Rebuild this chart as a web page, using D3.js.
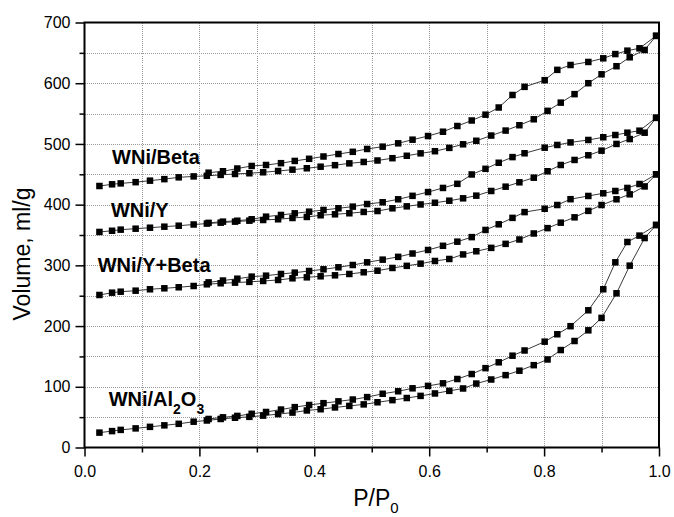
<!DOCTYPE html>
<html>
<head>
<meta charset="utf-8">
<script src="https://cdn.jsdelivr.net/npm/d3@7"></script>
<style>
  html, body { margin: 0; padding: 0; background: #fff; }
  svg { display: block; font-family: Arial, "Liberation Sans", sans-serif; }
</style>
</head>
<body>
<svg id="chart" width="674" height="517"></svg>
<script>
// Relative pressure points of the adsorption and desorption runs
const adsP = [0.026, 0.048, 0.063, 0.089, 0.114, 0.139, 0.164, 0.190, 0.213, 0.237,
  0.262, 0.287, 0.311, 0.337, 0.362, 0.387, 0.411, 0.436, 0.461, 0.486,
  0.510, 0.536, 0.561, 0.585, 0.610, 0.635, 0.659, 0.682, 0.708, 0.733,
  0.757, 0.782, 0.806, 0.829, 0.853, 0.877, 0.900, 0.926, 0.949, 0.975, 0.995];
const desP = [0.995, 0.966, 0.945, 0.924, 0.903, 0.877, 0.846, 0.823, 0.801, 0.766,
  0.745, 0.721, 0.698, 0.674, 0.649, 0.624, 0.598, 0.571, 0.546, 0.519,
  0.492, 0.467, 0.442, 0.416, 0.391, 0.366, 0.342, 0.316, 0.291, 0.266, 0.241, 0.216];

// Adsorbed volume, ml/g
const betaAds = [430.7, 433.5, 435, 437, 439.5, 442, 445, 446.5, 447.5, 449,
  450.5, 451.7, 453.3, 455.4, 457.6, 459.9, 462.5, 465, 468, 470.3,
  472.7, 476.5, 480.5, 484.5, 488, 493.5, 499.4, 505.2, 513.8, 522,
  530.8, 540.6, 554.5, 568, 582, 600, 614.7, 628, 642.7, 654.8, 678];
const betaDes = [678, 657.5, 653.6, 648, 641, 635, 630, 622, 605, 594,
  580.6, 560, 548.2, 538.6, 529.5, 520.1, 513, 507, 501, 495.5,
  491.7, 487, 483.4, 479.3, 475.5, 472, 468.3, 465.3, 463.7, 459.5, 455, 452.6];

const yAds = [355, 357, 358.8, 360.4, 362, 363.7, 365.3, 367.3, 368.8, 370.3,
  372, 373.6, 374.7, 375.9, 378, 379.7, 382.5, 384.1, 385.8, 388,
  389.5, 394, 397.2, 400.3, 403.1, 406.5, 410.4, 414.8, 422.5, 429.6,
  436.8, 444.4, 455, 465.3, 473.6, 481.3, 488.9, 500, 508, 518.5, 543];
const yDes = [543, 521.8, 518.5, 514.7, 511, 506.5, 502.5, 498.3, 493.8, 484.6,
  478.3, 469, 459, 449.7, 434.3, 427.5, 420.7, 414.5, 408.8, 403.9,
  401, 396.7, 394, 391.2, 388.4, 385.7, 383, 380.2, 375.9, 373.5, 372, 370];

const yBetaAds = [251.2, 255, 256.6, 258.3, 260.6, 262.2, 263.9, 266, 268.8, 270.5,
  271.5, 272.8, 274.3, 275.9, 278.7, 280.3, 282, 283.6, 285.8, 288.6,
  291.2, 295.7, 299.2, 302.8, 307.2, 310.5, 318, 323.2, 328.8, 335.4,
  342.6, 352.5, 361.3, 370.3, 379.1, 389.7, 399.4, 408.8, 417, 430, 450];
const yBetaDes = [450, 434, 427.5, 422.5, 418.7, 414.3, 409, 399.4, 393.2, 387.7,
  378.2, 367.6, 358.3, 346.5, 339, 332.2, 325.3, 319.5, 314, 309.4,
  305, 300.6, 296.8, 293.5, 290.7, 288, 285.8, 283, 281.4, 278, 275, 272];

const alAds = [24.5, 27, 29, 31.5, 34, 36.5, 39, 42.5, 44.5, 47,
  49, 50.5, 52.5, 55, 57.5, 61, 63, 66, 68.5, 71,
  74.5, 78, 81.5, 85, 89, 93.3, 97.2, 105.3, 112, 119.2,
  126.5, 135.6, 145, 160.5, 175.4, 193, 213.5, 254, 299.5, 345, 366.5];
const alDes = [366.5, 349, 338.5, 305, 260.6, 226, 199.8, 186.5, 174.3, 159.8,
  151.2, 140.3, 130.7, 121, 112.8, 105.7, 101.5, 97.5, 92.6, 88.5,
  83, 79, 76, 73, 70, 66.5, 62.5, 58.5, 55.5, 52, 49.7, 47];

// Sample names and where each name sits (P/P0, volume)
const sampleNames = ["WNi/Beta", "WNi/Y", "WNi/Y+Beta", "WNi/Al2O3"];
const nameAnchorP = [0.048, 0.046, 0.023, 0.042];
const nameAnchorV = [466.5, 380.2, 289.6, 68.4];

const xTicks = [0.0, 0.2, 0.4, 0.6, 0.8, 1.0];
const yTicks = [0, 100, 200, 300, 400, 500, 600, 700];

const svg = d3.select("#chart");
const plotL = 84.5, plotR = 659, plotT = 22.5, plotB = 447.5;

const x = d3.scaleLinear().domain([0, 1]).range([plotL, plotR]);
const y = d3.scaleLinear().domain([0, 700]).range([plotB, plotT]);

// dotted grid every 0.1 and every 50 ml/g
const grid = svg.append("g").attr("stroke", "#9a9a9a").attr("stroke-width", 1)
  .attr("stroke-dasharray", "1,1").attr("shape-rendering", "crispEdges");
grid.selectAll("line.gx").data(d3.range(1, 10).map(i => i / 10)).join("line")
  .attr("class", "gx")
  .attr("x1", d => Math.round(x(d)) + 0.5).attr("x2", d => Math.round(x(d)) + 0.5)
  .attr("y1", plotT).attr("y2", plotB);
grid.selectAll("line.gy").data(d3.range(1, 14).map(i => i * 50)).join("line")
  .attr("class", "gy")
  .attr("y1", d => Math.round(y(d)) + 0.5).attr("y2", d => Math.round(y(d)) + 0.5)
  .attr("x1", plotL).attr("x2", plotR);

// isotherm branches
const series = [
  [adsP, betaAds], [desP, betaDes],
  [adsP, yAds], [desP, yDes],
  [adsP, yBetaAds], [desP, yBetaDes],
  [adsP, alAds], [desP, alDes]
];
const line = d3.line().x(d => x(d[0])).y(d => y(d[1]));
const plot = svg.append("g");
series.forEach(([ps, vs]) => {
  const pts = ps.map((p, i) => [p, vs[i]]);
  plot.append("path").datum(pts).attr("d", line)
    .attr("fill", "none").attr("stroke", "#3a3a3a").attr("stroke-width", 1);
});
const ms = 6.5;
series.forEach(([ps, vs]) => {
  const pts = ps.map((p, i) => [p, vs[i]]);
  plot.append("g").selectAll("rect").data(pts).join("rect")
    .attr("x", d => x(d[0]) - ms / 2).attr("y", d => y(d[1]) - ms / 2)
    .attr("width", ms).attr("height", ms).attr("fill", "#000");
});

// axes
const axisFont = g => g.selectAll("text").attr("font-size", 16)
  .attr("font-family", "Arial, 'Liberation Sans', sans-serif").attr("fill", "#000");
const xAxis = svg.append("g").attr("transform", `translate(0,${plotB})`)
  .call(d3.axisBottom(x).tickValues(xTicks).tickSizeInner(9).tickSizeOuter(0)
    .tickPadding(9).tickFormat(d3.format(".1f")));
xAxis.call(axisFont);
svg.append("g").attr("transform", `translate(0,${plotB})`)
  .call(d3.axisBottom(x).tickValues([0.1, 0.3, 0.5, 0.7, 0.9]).tickSizeInner(5)
    .tickSizeOuter(0).tickFormat(""));
const yAxis = svg.append("g").attr("transform", `translate(${plotL},0)`)
  .call(d3.axisLeft(y).tickValues(yTicks).tickSizeInner(9).tickSizeOuter(0)
    .tickPadding(5).tickFormat(d3.format("d")));
yAxis.call(axisFont);
svg.append("g").attr("transform", `translate(${plotL},0)`)
  .call(d3.axisLeft(y).tickValues([50, 150, 250, 350, 450, 550, 650]).tickSizeInner(5)
    .tickSizeOuter(0).tickFormat(""));
svg.selectAll(".domain").remove();
svg.selectAll(".tick line").attr("stroke", "#000").attr("stroke-width", 1.5);

// frame
svg.append("rect").attr("x", plotL).attr("y", plotT)
  .attr("width", plotR - plotL).attr("height", plotB - plotT)
  .attr("fill", "none").attr("stroke", "#000").attr("stroke-width", 2);

// axis titles
svg.append("text").attr("transform", "translate(30,254) rotate(-90)")
  .attr("text-anchor", "middle").attr("font-size", 23).text("Volume, ml/g");
const xt = svg.append("text").attr("x", 376).attr("y", 506)
  .attr("text-anchor", "middle").attr("font-size", 23);
xt.append("tspan").text("P/P");
xt.append("tspan").attr("font-size", 15).attr("dy", 7).text("0");

// sample names, with subscripts for the oxide formula
sampleNames.forEach((name, i) => {
  const t = svg.append("text").attr("x", x(nameAnchorP[i])).attr("y", y(nameAnchorV[i]))
    .attr("font-size", 20).attr("font-weight", "bold");
  const parts = name.match(/[^0-9]+|[0-9]+/g);
  let sub = false;
  parts.forEach(part => {
    const isNum = /^[0-9]+$/.test(part);
    const ts = t.append("tspan").text(part);
    if (isNum && !sub) { ts.attr("font-size", 14).attr("dy", 8); sub = true; }
    else if (!isNum && sub) { ts.attr("dy", -8); sub = false; }
    else if (isNum && sub) { ts.attr("font-size", 14); }
  });
});
</script>
</body>
</html>
